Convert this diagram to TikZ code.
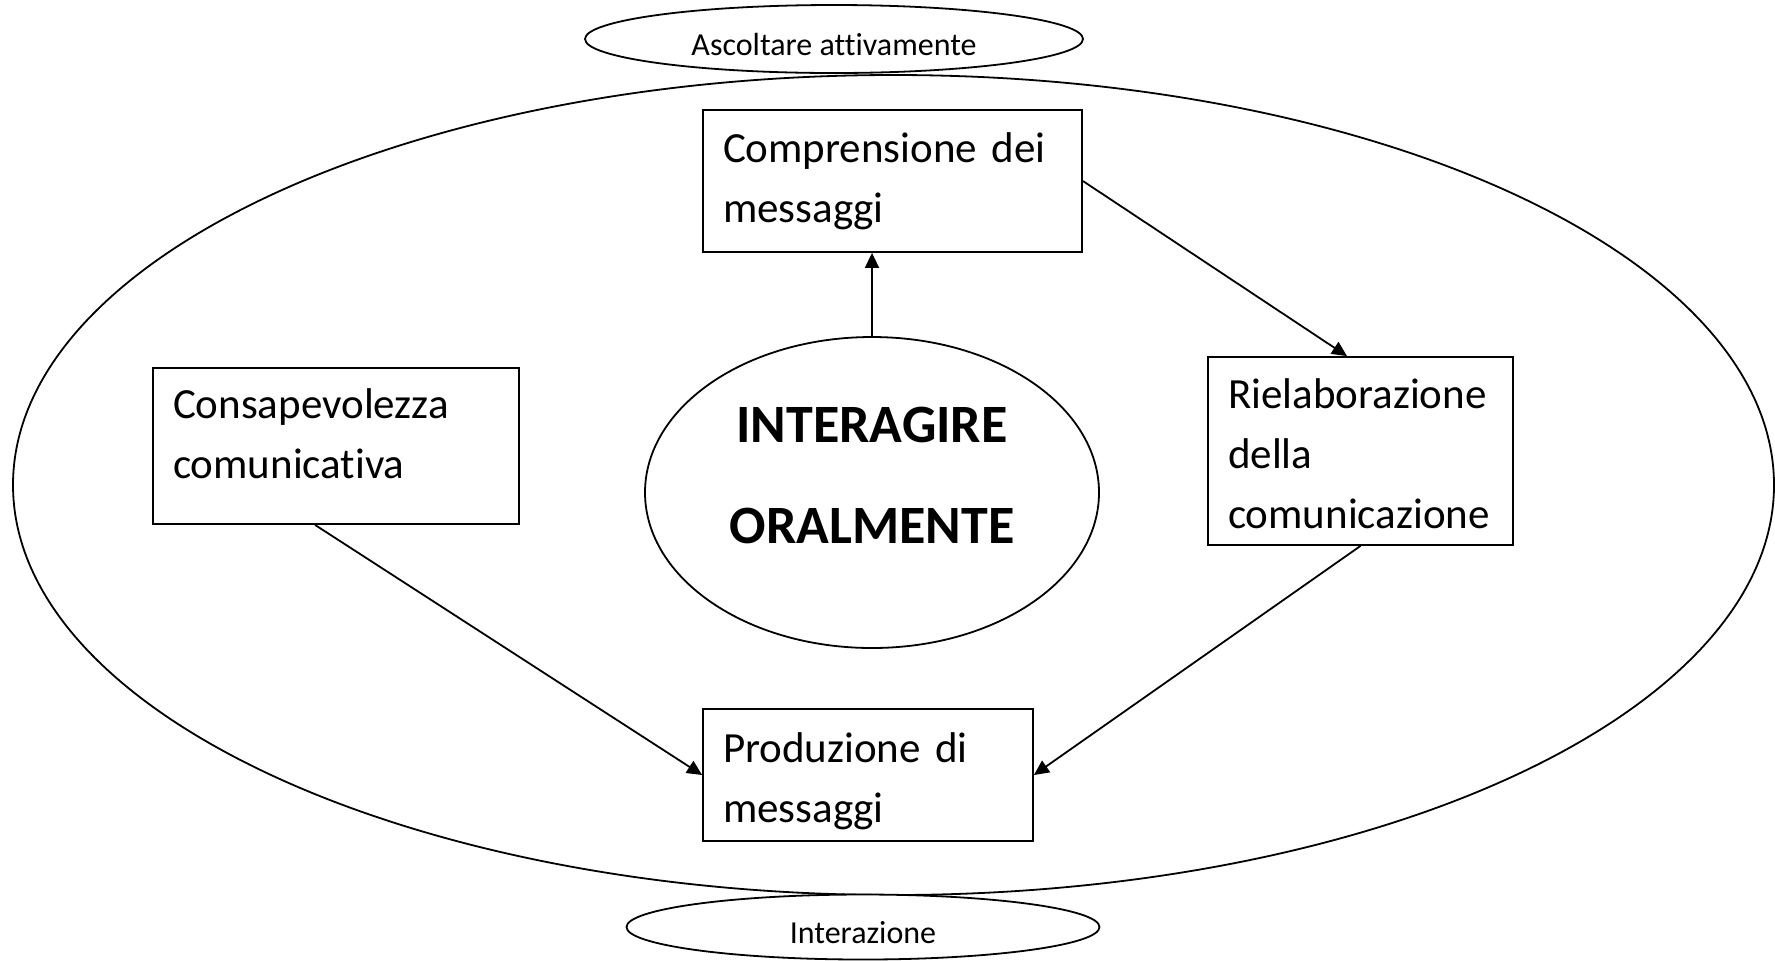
\documentclass[tikz,border=0pt]{standalone}
\usepackage{fontspec}
\setmainfont{Carlito}[Ligatures=CommonOff]
\usetikzlibrary{shapes.geometric,arrows.meta,calc}

\begin{document}
\begin{tikzpicture}[x=0.5pt,y=-0.5pt,line width=0.9pt,
        box/.style={draw,rectangle,inner xsep=10pt,inner ysep=0pt,align=left,text height=0pt,font=\fontsize{21.5}{30}\selectfont},
        oval/.style={draw,ellipse,inner sep=0pt},
        tag/.style={oval,fill=white,font=\fontsize{16}{20}\selectfont,text height=16pt,text depth=0pt},
        arr/.style={-{Triangle[length=7.5pt,width=7pt]}}]
        \useasboundingbox (0,0) rectangle (1775,960);
        % Outer frame and the two labels on it
        \node[oval,minimum width=880.5pt,minimum height=410pt] (frame) at (893.5,485) {};
        \node[tag,minimum width=249pt,minimum height=34pt] (ascolto) at (834,39) {Ascoltare attivamente};
        \node[tag,minimum width=236.5pt,minimum height=32.5pt] (interaz) at (863,927) {Interazione};
        % Centre
        \node[oval,minimum width=227pt,minimum height=155.5pt] (core) at (872,492.5) {};
        \node[align=center,font=\fontsize{27}{50.5}\selectfont\bfseries] (coretext) at (872,475) {INTERAGIRE\\ORALMENTE};
        % Boxes
        \node[box,text width=169.5pt,minimum height=71pt,text depth=19pt] (compr) at (892.5,181) {Comprensione dei\\messaggi};
        \node[box,text width=163pt,minimum height=78pt,text depth=28pt] (consap) at (336,446) {Consapevolezza\\comunicativa};
        \node[box,text width=132.5pt,minimum height=94pt,text depth=43pt] (riel) at (1360.5,451) {Rielaborazione\\della\\comunicazione};
        \node[box,text width=145pt,minimum height=66pt,text depth=13pt] (prod) at (868,775) {Produzione di\\messaggi};
        % Arrows
        \draw[arr] (core.north) -- (core.north |- compr.south);
        \draw[arr] (compr.east) -- ($(riel.north west)!0.456!(riel.north east)$);
        \draw[arr] ($(consap.south west)!0.443!(consap.south east)$) -- (prod.west);
        \draw[arr] (riel.south) -- (prod.east);
    \end{tikzpicture}
\end{document}
